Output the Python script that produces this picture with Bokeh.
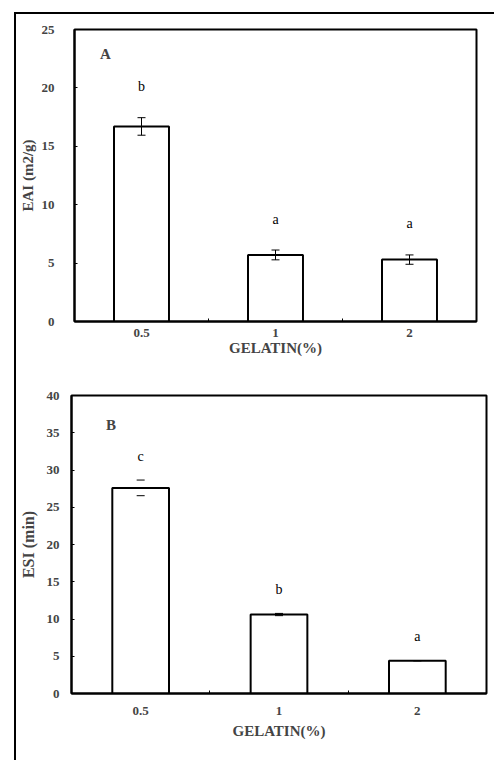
from bokeh.plotting import figure
from bokeh.models import Range1d, FixedTicker, Whisker, ColumnDataSource, TeeHead, Label
from bokeh.layouts import column
from bokeh.core.properties import value
from bokeh.embed import file_html
from bokeh.resources import INLINE

# ---- data ----
gelatin = ["0.5", "1", "2"]
xpos = [0.5, 1.5, 2.5]

eai = [16.7, 5.7, 5.3]
eai_err = [0.75, 0.42, 0.4]
eai_letters = ["b", "a", "a"]

esi = [27.6, 10.6, 4.4]
esi_err = [1.05, 0.15, 0.0]
esi_letters = ["c", "b", "a"]

SERIF = "Liberation Serif"


def panel(vals, errs, letters, ymax, ylabel, tag, tag_pos, width, height,
          mb_left, mb_right, mb_top, mb_bottom, lab_std, title_std, ylab_std,
          ylab_std2, letter_off, title_size, ylab_size, stem):
    p = figure(width=width, height=height, x_range=Range1d(0, 3), y_range=Range1d(0, ymax),
               output_backend="svg", toolbar_location=None, frame_align=False,
               min_border_left=mb_left, min_border_right=mb_right,
               min_border_top=mb_top, min_border_bottom=mb_bottom)
    p.xgrid.visible = False
    p.ygrid.visible = False
    p.outline_line_color = "black"
    p.outline_line_width = 2
    p.background_fill_color = "white"
    p.border_fill_color = "white"

    src = ColumnDataSource(dict(x=xpos, top=vals, lo=[v - e for v, e in zip(vals, errs)],
                                hi=[v + e for v, e in zip(vals, errs)], lab=letters))
    p.vbar(x="x", top="top", width=0.41, bottom=0, source=src, fill_color="white",
           line_color="black", line_width=2)
    w = Whisker(base="x", lower="lo", upper="hi", source=src, line_color="black",
                line_width=1, line_alpha=1 if stem else 0, level="annotation",
                upper_head=TeeHead(size=8, line_width=1), lower_head=TeeHead(size=8, line_width=1))
    p.add_layout(w)
    p.text(x="x", y="hi", text="lab", source=src, text_font=value(SERIF), text_font_size="14px",
           text_align="center", text_baseline="middle", y_offset=letter_off, text_color="black")

    p.add_layout(Label(x=tag_pos[0], y=tag_pos[1], text=tag, text_font=SERIF,
                       text_font_size="15px", text_font_style="bold", text_baseline="middle"))

    # x axis
    xa = p.xaxis[0]
    xa.ticker = FixedTicker(ticks=xpos, minor_ticks=[1, 2])
    xa.major_label_overrides = {x: g for x, g in zip(xpos, gelatin)}
    xa.major_tick_in = 0
    xa.major_tick_out = 0
    xa.minor_tick_in = 3
    xa.minor_tick_out = 0
    xa.axis_line_width = 2
    xa.minor_tick_line_width = 1
    xa.major_label_text_font = SERIF
    xa.major_label_text_font_style = "bold"
    xa.major_label_text_font_size = "13px"
    xa.major_label_standoff = lab_std
    xa.axis_label = "GELATIN(%)"
    xa.axis_label_text_font = SERIF
    xa.axis_label_text_font_style = "bold"
    xa.axis_label_text_font_size = title_size
    xa.axis_label_standoff = title_std

    # y axis
    ya = p.yaxis[0]
    ya.ticker = FixedTicker(ticks=list(range(0, ymax + 1, 5)))
    ya.major_tick_in = 3
    ya.major_tick_out = 0
    ya.minor_tick_line_color = None
    ya.axis_line_width = 2
    ya.major_label_text_font = SERIF
    ya.major_label_text_font_style = "bold"
    ya.major_label_text_font_size = "13px"
    ya.major_label_standoff = ylab_std
    ya.axis_label = ylabel
    ya.axis_label_text_font = SERIF
    ya.axis_label_text_font_style = "bold"
    ya.axis_label_text_font_size = ylab_size
    ya.axis_label_standoff = ylab_std2
    return p


pA = panel(eai, eai_err, eai_letters, 25, "EAI (m2/g)", "A", (0.19, 22.9),
           478, 346, 55, 18, 15, 39, 7, 0, 20, 3, -31, "15px", "15px", True)
pB = panel(esi, esi_err, esi_letters, 40, "ESI (min)", "B", (0.25, 36.0),
           478, 400, 50, 8, 35, 67, 13, 5, 12, 7, -24, "15px", "16px", False)

layout = column(pA, pB, spacing=0, margin=(12, 0, 0, 14),
                styles={"border-top": "2px solid black", "border-left": "2px solid black"})

open("out.html", "w").write(file_html(layout, INLINE))
